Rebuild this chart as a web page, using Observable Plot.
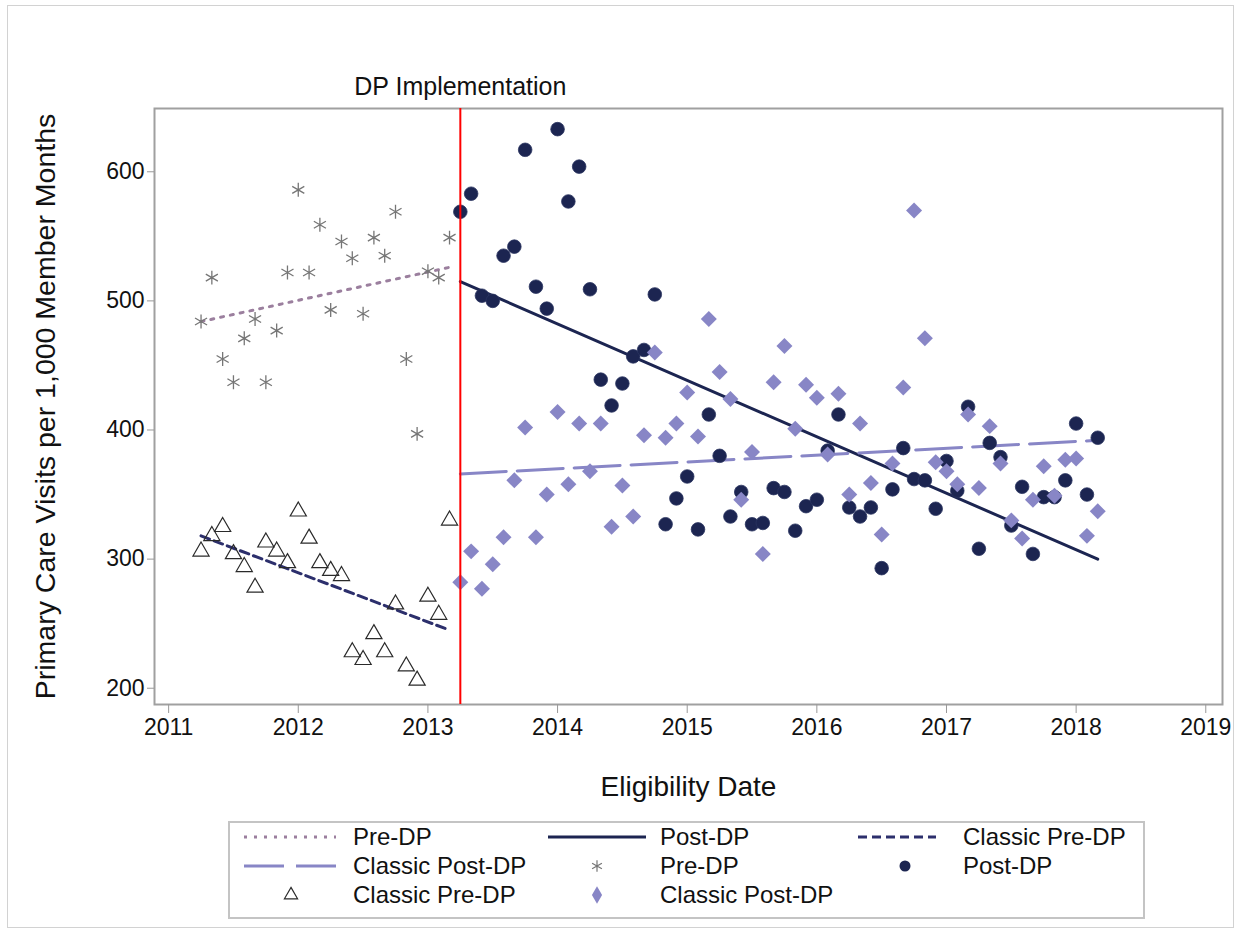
<!DOCTYPE html>
<html><head><meta charset="utf-8">
<script src="https://cdn.jsdelivr.net/npm/d3@7"></script>
<script src="https://cdn.jsdelivr.net/npm/@observablehq/plot@0.6"></script>
<style>
body{margin:0;background:#fff;font-family:"Liberation Sans",Arial,sans-serif;}
#wrap{position:relative;width:1241px;height:935px;overflow:hidden;background:#fff;}
#border{position:absolute;left:7px;top:5px;width:1227px;height:923px;border:1px solid #d2d2d2;box-sizing:border-box;}
#chart{position:absolute;left:0;top:0;}
#legend{position:absolute;left:0;top:800px;}
</style></head><body>
<div id="wrap"><div id="border"></div><div id="chart"></div><svg id="legend" width="1241" height="135"></svg></div>
<script>
// ---- data (monthly values) ----
const preStart = "2011-04";
const postStart = "2013-04";
const dpDate = 2013.25; // DP implementation (April 2013)

const preDP = [484, 518, 455, 437, 471, 486, 437, 477, 522, 586, 522, 559,
               493, 546, 533, 490, 549, 535, 569, 455, 397, 523, 518, 549];
const classicPreDP = [306, 318, 325, 304, 294, 278, 313, 306, 297, 337, 316, 297,
                      291, 287, 228, 222, 242, 228, 265, 217, 206, 271, 257, 330];
const postDP = [569, 583, 504, 500, 535, 542, 617, 511, 494, 633, 577, 604,
                509, 439, 419, 436, 457, 462, 505, 327, 347, 364, 323, 412,
                380, 333, 352, 327, 328, 355, 352, 322, 341, 346, 384, 412,
                340, 333, 340, 293, 354, 386, 362, 361, 339, 376, 353, 418,
                308, 390, 379, 326, 356, 304, 348, 348, 361, 405, 350, 394];
const classicPostDP = [282, 306, 277, 296, 317, 361, 402, 317, 350, 414, 358, 405,
                       368, 405, 325, 357, 333, 396, 460, 394, 405, 429, 395, 486,
                       445, 424, 346, 383, 304, 437, 465, 401, 435, 425, 381, 428,
                       350, 405, 359, 319, 374, 433, 570, 471, 375, 368, 358, 412,
                       355, 403, 374, 330, 316, 346, 372, 349, 377, 378, 318, 337];

// fitted trend lines (start and end values)
const preTrend = [484, 526];
const postTrend = [515, 300];
const classicPreTrend = [318, 245];
const classicPostTrend = [366, 392];

const xTicks = [2011, 2012, 2013, 2014, 2015, 2016, 2017, 2018, 2019];
const yTicks = [200, 300, 400, 500, 600];

// ---- helpers ----
function monthToYear(start, i) {
  const [y, m] = start.split("-").map(Number);
  return y + (m - 1 + i) / 12;
}
const series = (start, vals) => vals.map((v, i) => ({x: monthToYear(start, i), y: v}));
const trend = (start, n, ends) => [
  {x: monthToYear(start, 0), y: ends[0]},
  {x: monthToYear(start, n - 1), y: ends[1]}
];

const preData = series(preStart, preDP);
const classicPreData = series(preStart, classicPreDP);
const postData = series(postStart, postDP);
const classicPostData = series(postStart, classicPostDP);

const C = {
  preLine: "#9b7f9e",
  asterisk: "#767676",
  navy: "#1c2551",
  classicPre: "#2c2f6c",
  lavender: "#8886c6",
  tri: "#2a2a2a",
  red: "#ff0000"
};
const FONT = "'Liberation Sans', Arial, sans-serif";

const chart = Plot.plot({
  width: 1241,
  height: 810,
  marginLeft: 154,
  marginRight: 19,
  marginTop: 108,
  marginBottom: 106,
  x: {domain: [2010.891, 2019.129], label: null},
  y: {domain: [187.4, 649], label: null},
  style: {fontFamily: FONT, background: "transparent", color: "#111"},
  marks: [
    Plot.frame({stroke: "#a0a0a0", strokeWidth: 2}),
    Plot.line(trend(preStart, preDP.length, preTrend), {x: "x", y: "y", stroke: C.preLine, strokeWidth: 3, strokeDasharray: "3,7"}),
    Plot.line(trend(postStart, postDP.length, postTrend), {x: "x", y: "y", stroke: C.navy, strokeWidth: 3}),
    Plot.line(trend(preStart, classicPreDP.length, classicPreTrend), {x: "x", y: "y", stroke: C.classicPre, strokeWidth: 3, strokeDasharray: "9,5"}),
    Plot.line(trend(postStart, classicPostDP.length, classicPostTrend), {x: "x", y: "y", stroke: C.lavender, strokeWidth: 3, strokeDasharray: "46,11"}),
    Plot.dot(preData, {x: "x", y: "y", symbol: "asterisk", r: 6.6, stroke: C.asterisk, strokeWidth: 1.3, fill: "none"}),
    Plot.dot(postData, {x: "x", y: "y", symbol: "circle", r: 6.8, fill: C.navy, stroke: "#2a3460", strokeWidth: 0.8}),
    Plot.dot(classicPreData, {x: "x", y: "y", symbol: "triangle", r: 6.0, stroke: C.tri, strokeWidth: 1.2, fill: "none"}),
    Plot.dot(classicPostData, {x: "x", y: "y", symbol: "diamond2", r: 7.2, fill: C.lavender, stroke: "none"}),
    Plot.ruleX([dpDate], {stroke: C.red, strokeWidth: 2}),
    Plot.text(["DP Implementation"], {x: [dpDate], text: d => d, frameAnchor: "top", lineAnchor: "middle", textAnchor: "middle", dy: -22, fontSize: 25, fill: "#111"}),
    Plot.text(["Primary Care Visits per 1,000 Member Months"], {text: d => d, frameAnchor: "left", textAnchor: "middle", lineAnchor: "middle", dx: -109, rotate: -90, fontSize: 28.5, fill: "#111"}),
    Plot.text(["Eligibility Date"], {text: d => d, frameAnchor: "bottom", textAnchor: "middle", lineAnchor: "middle", dy: 83, fontSize: 28, fill: "#111"}),
    Plot.axisX({ticks: xTicks, tickFormat: d => String(d), tickSize: 9, tickPadding: 5, fontSize: 23, stroke: "#999", fill: "#111", label: null}),
    Plot.axisY({ticks: yTicks, tickFormat: d => String(d), tickSize: 7, tickPadding: 3, fontSize: 23, stroke: "#999", fill: "#111", label: null})
  ]
});
document.getElementById("chart").appendChild(chart);

// ---- legend ----
const lg = d3.select("#legend");
const off = 800;
lg.append("rect").attr("x", 229).attr("y", 822 - off).attr("width", 915).attr("height", 96)
  .attr("fill", "white").attr("stroke", "#c4c4c4").attr("stroke-width", 2);
const rows = [837, 866, 895].map(v => v - off);
const txt = (x, y, s) => lg.append("text").attr("x", x).attr("y", y).attr("dy", "0.35em")
  .attr("font-size", 24).attr("fill", "#111").attr("font-family", FONT).text(s);
const seg = (x1, x2, y, color, dash) => lg.append("line").attr("x1", x1).attr("x2", x2).attr("y1", y).attr("y2", y)
  .attr("stroke", color).attr("stroke-width", 3).attr("stroke-dasharray", dash || null);
const sym = (type, size, x, y, fill, stroke, sw) => lg.append("path")
  .attr("d", d3.symbol(type, size)()).attr("transform", `translate(${x},${y})`)
  .attr("fill", fill).attr("stroke", stroke).attr("stroke-width", sw || 1);

seg(244, 336, rows[0], C.preLine, "3,7"); txt(353, rows[0], "Pre-DP");
seg(548, 646, rows[0], C.navy); txt(660, rows[0], "Post-DP");
seg(858, 936, rows[0], C.classicPre, "9,5"); txt(963, rows[0], "Classic Pre-DP");
seg(244, 336, rows[1], C.lavender, "40,12"); txt(353, rows[1], "Classic Post-DP");
sym(d3.symbolAsterisk, 90, 597, rows[1], "none", C.asterisk, 1.2); txt(660, rows[1], "Pre-DP");
sym(d3.symbolCircle, 95, 905, rows[1], C.navy, "none"); txt(963, rows[1], "Post-DP");
sym(d3.symbolTriangle, 75, 291, rows[2], "none", C.tri, 1.2); txt(353, rows[2], "Classic Pre-DP");
sym(d3.symbolDiamond, 90, 597, rows[2], C.lavender, "none"); txt(660, rows[2], "Classic Post-DP");
</script>
</body></html>
